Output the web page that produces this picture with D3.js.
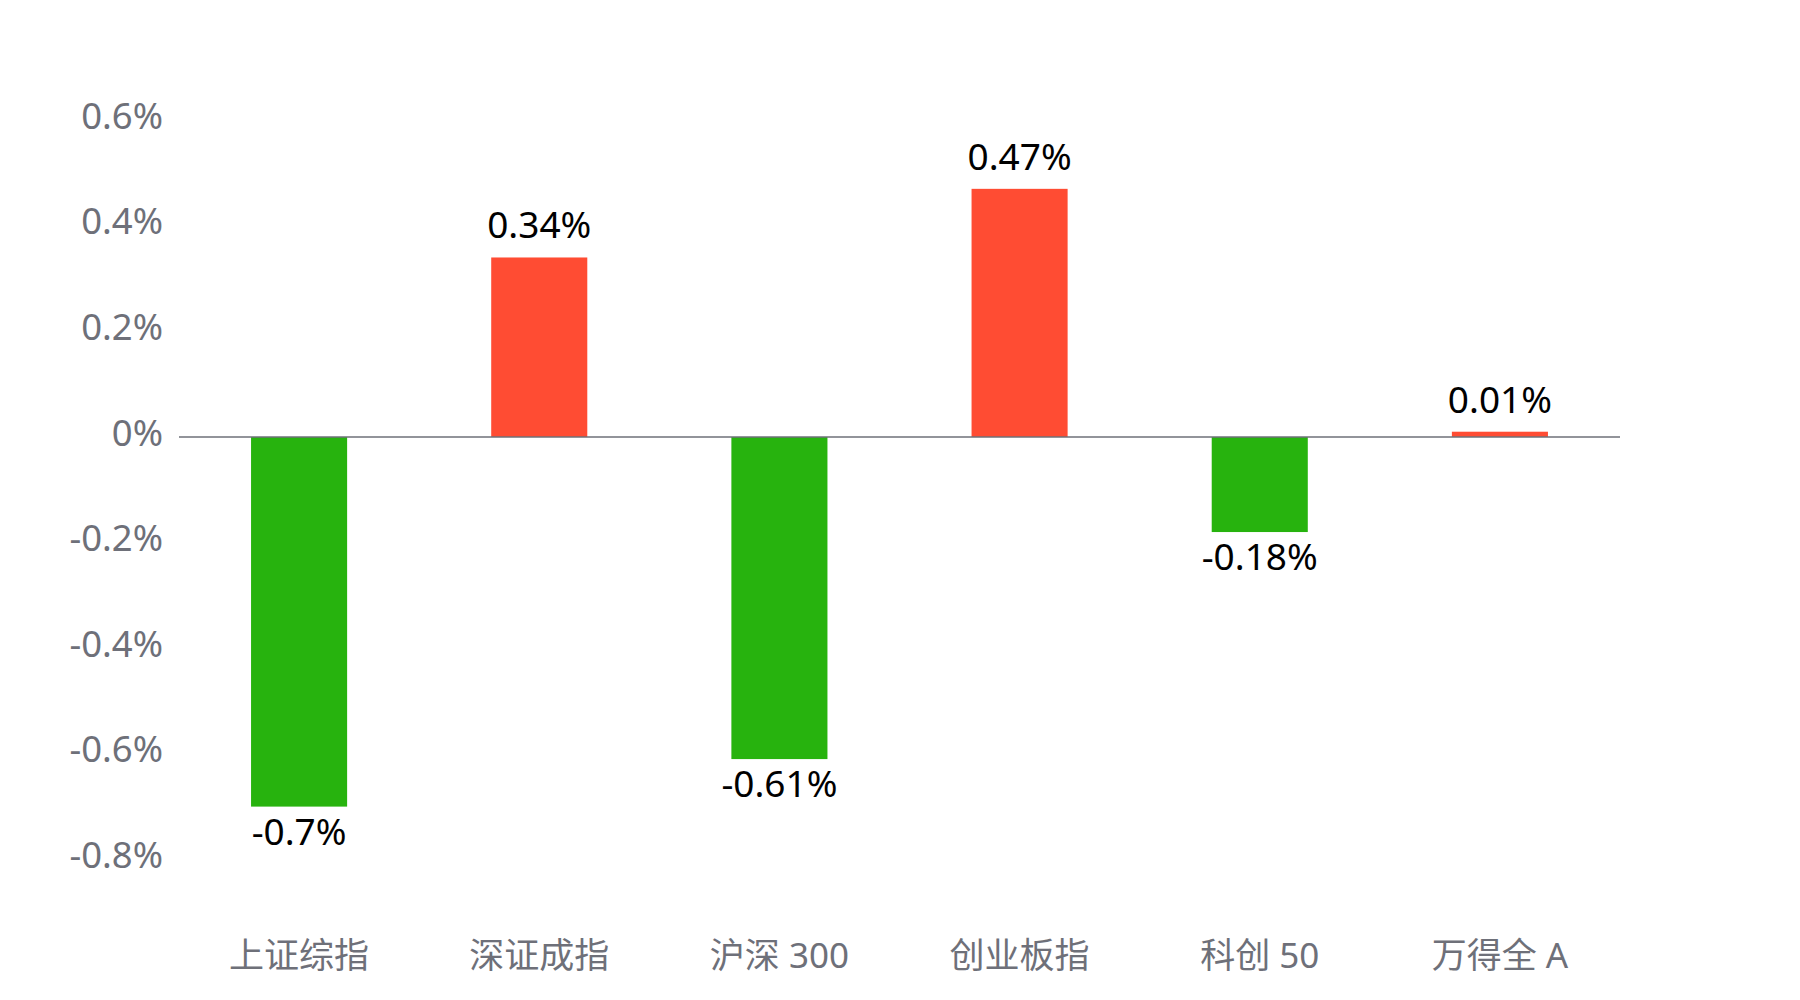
<!DOCTYPE html>
<html>
<head>
<meta charset="utf-8">
<script src="https://cdn.jsdelivr.net/npm/d3@7"></script>
<style>
  html, body { margin: 0; padding: 0; background: #ffffff; }
  svg { display: block; }
  text { font-family: "Noto Sans", "Noto Sans CJK SC", sans-serif; }
</style>
</head>
<body>
<svg id="chart" width="1800" height="1000"></svg>
<script>
const categories = ["上证综指", "深证成指", "沪深 300", "创业板指", "科创 50", "万得全 A"];
const values = [-0.7, 0.34, -0.61, 0.47, -0.18, 0.01];
const valueLabels = ["-0.7%", "0.34%", "-0.61%", "0.47%", "-0.18%", "0.01%"];
const yTicks = [0.6, 0.4, 0.2, 0, -0.2, -0.4, -0.6, -0.8];
const yTickLabels = ["0.6%", "0.4%", "0.2%", "0%", "-0.2%", "-0.4%", "-0.6%", "-0.8%"];

const upColor = "#FF4C33";
const downColor = "#27B30E";
const axisColor = "#6E7079";

const svg = d3.select("#chart");

const x = d3.scaleBand()
  .domain(categories)
  .range([179, 1620])
  .paddingInner(0.6)
  .paddingOuter(0.3);

const y = d3.scaleLinear()
  .domain([-0.8, 0.6])
  .range([859.4, 120.2]);

// Y axis labels
const yAxis = d3.axisLeft(y)
  .tickValues(yTicks)
  .tickSize(0)
  .tickPadding(16)
  .tickFormat((d, i) => yTickLabels[i]);

const gy = svg.append("g")
  .attr("transform", "translate(179,0)")
  .call(yAxis);
gy.select(".domain").remove();
gy.selectAll("text")
  .attr("fill", axisColor)
  .attr("font-size", 36.5)
  .attr("dy", null)
  .attr("dominant-baseline", "alphabetic")
  .attr("y", 8)
  .style("font-family", '"Noto Sans", "Noto Sans CJK SC", sans-serif');

// Bars
svg.append("g").selectAll("rect")
  .data(values)
  .join("rect")
  .attr("x", (d, i) => x(categories[i]))
  .attr("width", x.bandwidth())
  .attr("y", d => Math.min(y(d), y(0)))
  .attr("height", d => Math.abs(y(d) - y(0)))
  .attr("fill", d => d >= 0 ? upColor : downColor);

// Zero line (x axis)
const xAxis = d3.axisBottom(x)
  .tickSize(0)
  .tickPadding(0)
  .tickSizeOuter(0);

const gx = svg.append("g")
  .attr("transform", `translate(0,${y(0)})`)
  .call(xAxis);
gx.select(".domain")
  .attr("stroke", axisColor)
  .attr("stroke-width", 1.6)
  .attr("d", `M179,0H1620`);
gx.selectAll("text")
  .attr("fill", axisColor)
  .attr("font-size", 35)
  .attr("dy", null)
  .attr("dominant-baseline", "alphabetic")
  .attr("y", 968 - y(0))
  .style("font-family", '"Noto Sans", "Noto Sans CJK SC", sans-serif');

// Value labels
svg.append("g").selectAll("text")
  .data(values)
  .join("text")
  .attr("x", (d, i) => x(categories[i]) + x.bandwidth() / 2)
  .attr("y", d => d >= 0 ? y(d) - 19 : y(d) + 38)
  .attr("text-anchor", "middle")
  .attr("font-size", 37)
  .attr("fill", "#000000")
  .text((d, i) => valueLabels[i]);
</script>
</body>
</html>
